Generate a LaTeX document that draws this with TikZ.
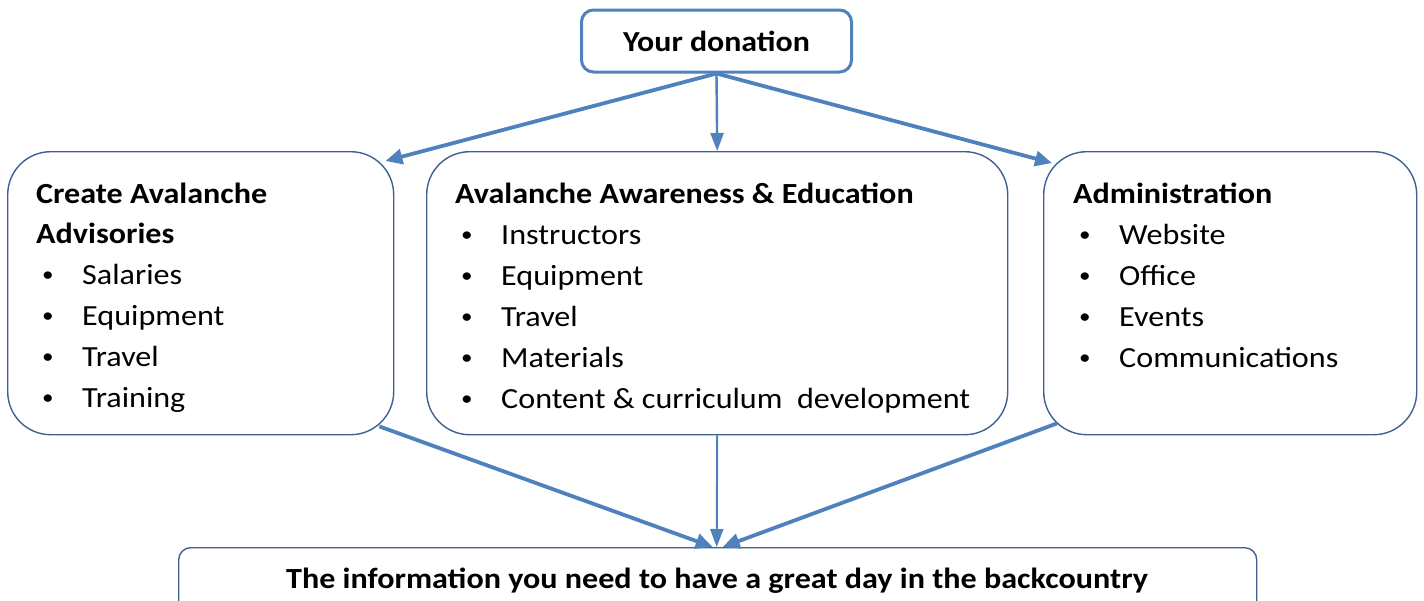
\documentclass[tikz,border=0pt]{standalone}
\usepackage{graphicx}
\usepackage{fontspec}
\setmainfont{Carlito}[FakeStretch=1.1]
\usetikzlibrary{arrows.meta,calc}
\definecolor{arrowblue}{HTML}{4F81BD}
\definecolor{boxblue}{HTML}{3F6190}
\newcommand{\mybul}{\makebox[40pt][l]{\raisebox{2.7pt}{\scalebox{0.72}{•}}}}
\begin{document}
\begin{tikzpicture}[x=1pt,y=-1pt,
  catbox/.style={draw=boxblue,line width=1.4pt,rounded corners=43pt,fill=white,inner sep=0pt,anchor=north west},
  topbox/.style={draw=arrowblue,line width=3pt,rounded corners=12pt,fill=white,inner sep=0pt,
    minimum width=270pt,minimum height=62pt,font=\fontsize{29}{34}\selectfont\bfseries},
  botbox/.style={draw=boxblue,line width=1.4pt,rounded corners=12pt,fill=white,inner sep=0pt,anchor=north west},
  titletext/.style={anchor=base west,inner sep=0pt,font=\fontsize{29.2}{34}\selectfont\bfseries},
  itemtext/.style={anchor=base west,inner sep=0pt,font=\fontsize{29.2}{34}\selectfont},
  bottext/.style={inner sep=0pt,anchor=base,font=\fontsize{29.2}{34}\selectfont\bfseries},
  bigarrow/.style={draw=arrowblue,line width=3.8pt,-{Triangle[length=17pt,width=15pt]}},
  midarrow/.style={draw=arrowblue,line width=2.4pt,-{Triangle[length=18pt,width=13pt]}}
]
\useasboundingbox (0,0) rectangle (1424,600);

% boxes
\node[topbox] (don) at (716.5,41) {Your donation};
\node[catbox,minimum width=386pt,minimum height=283pt] (adv) at (7,151) {};
\node[catbox,minimum width=581pt,minimum height=283pt] (edu) at (426,151) {};
\node[catbox,minimum width=373pt,minimum height=283pt] (adm) at (1043,151) {};
\node[botbox,minimum width=1078pt,minimum height=80pt] (info) at (178,547) {};

% texts
\node[titletext] (advt1) at (36,203) {Create Avalanche};
\node[titletext] (advt2) at (36,243) {Advisories};
\foreach \t [count=\i] in {Salaries,Equipment,Travel,Training}
  \node[itemtext] (advi\i) at (42,243+41*\i) {\mybul\t};

\node[titletext] (edut) at (455,203) {Avalanche Awareness \& Education};
\foreach \t [count=\i] in {Instructors,Equipment,Travel,Materials,Content \& curriculum\ \ development}
  \node[itemtext] (edui\i) at (461,203+41*\i) {\mybul\t};

\node[titletext] (admt) at (1073,203) {Administration};
\foreach \t [count=\i] in {Website,Office,Events,Communications}
  \node[itemtext] (admi\i) at (1079,203+41*\i) {\mybul\t};

\node[bottext] (infot) at (717,588) {The information you need to have a great day in the backcountry};

% connectors
\coordinate (dsrc) at (don.south);
\draw[bigarrow] (dsrc) -- ($(adv.north east)+(-9,10)$);
\draw[midarrow] (dsrc) -- (edu.north);
\draw[bigarrow] (dsrc) -- ($(adm.north west)+(9,12)$);

\draw[bigarrow] ($(adv.south east)+(-15,-9)$) -- ($(info.north)+(-5,0)$);
\draw[draw=arrowblue,line width=2pt,-{Triangle[length=18pt,width=13pt]}] (edu.south) -- ($(info.north)+(-1,0)$);
\draw[bigarrow] ($(adm.south west)+(14,-12)$) -- ($(info.north)+(5,0)$);
\end{tikzpicture}
\end{document}
